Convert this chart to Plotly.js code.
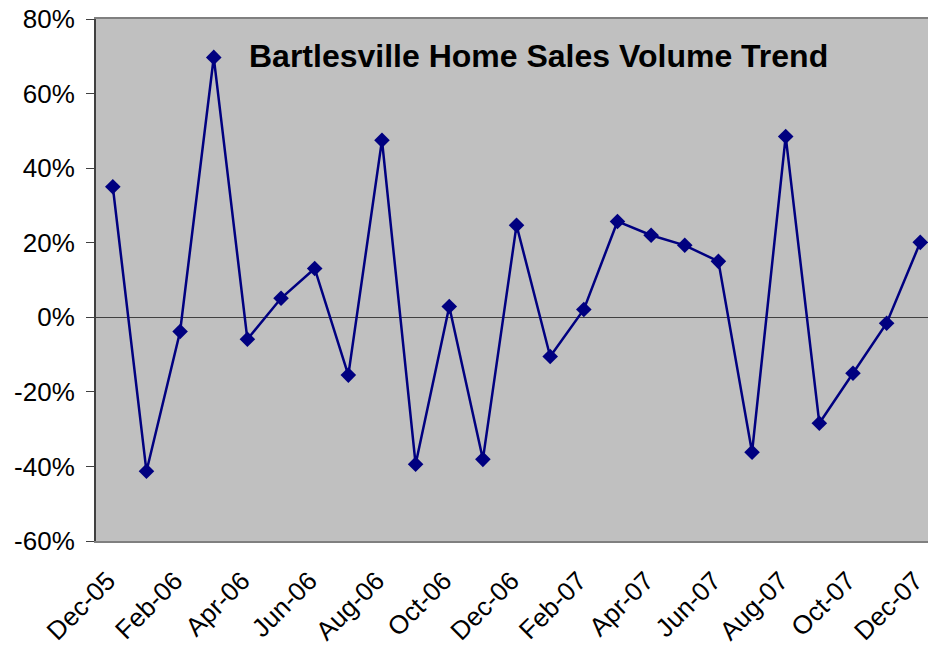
<!DOCTYPE html>
<html>
<head>
<meta charset="utf-8">
<script src="https://cdn.plot.ly/plotly-3.0.1.min.js"></script>
<style>html,body{margin:0;padding:0;background:#fff;}#chart{width:928px;height:646px;}</style>
</head>
<body>
<div id="chart"></div>
<script>
const months = ["Dec-05","Jan-06","Feb-06","Mar-06","Apr-06","May-06","Jun-06","Jul-06","Aug-06","Sep-06","Oct-06","Nov-06","Dec-06","Jan-07","Feb-07","Mar-07","Apr-07","May-07","Jun-07","Jul-07","Aug-07","Sep-07","Oct-07","Nov-07","Dec-07"];
const volumeChange = [0.35,-0.413,-0.038,0.697,-0.059,0.051,0.131,-0.155,0.475,-0.394,0.029,-0.381,0.247,-0.105,0.021,0.257,0.22,0.193,0.15,-0.362,0.485,-0.284,-0.15,-0.016,0.201];
const tickLabels = ["Dec-05","Feb-06","Apr-06","Jun-06","Aug-06","Oct-06","Dec-06","Feb-07","Apr-07","Jun-07","Aug-07","Oct-07","Dec-07"];
const yTicks = [-0.6,-0.4,-0.2,0,0.2,0.4,0.6,0.8];
const yTickText = ["-60%","-40%","-20%","0%","20%","40%","60%","80%"];
const titleText = "Bartlesville Home Sales Volume Trend";

const trace = {
  x: months, y: volumeChange, type: 'scatter', mode: 'lines+markers',
  line: {color: '#000080', width: 2.5},
  marker: {symbol: 'diamond', size: 12, color: '#000080'},
  hoverinfo: 'skip'
};

const layout = {
  width: 928, height: 646,
  margin: {l: 96, r: 0, t: 19, b: 105},
  paper_bgcolor: '#ffffff', plot_bgcolor: '#c0c0c0',
  font: {family: 'Liberation Sans, Arial, sans-serif', color: '#000'},
  showlegend: false,
  xaxis: {
    type: 'category', categoryorder: 'array', categoryarray: months,
    range: [-0.5, 24.23],
    tickvals: tickLabels, ticktext: tickLabels.map(t => t + '\u00a0'), tickangle: -45,
    tickfont: {size: 26}, ticks: '', ticklabelstandoff: 7,
    showgrid: false, zeroline: false,
    showline: true, linecolor: '#808080', linewidth: 2, mirror: true
  },
  yaxis: {
    range: [-0.6, 0.8], tickvals: yTicks, ticktext: yTickText,
    tickfont: {size: 26}, ticks: 'outside', ticklen: 8, tickcolor: '#404040', tickwidth: 1,
    ticklabelstandoff: 6,
    showgrid: false, zeroline: true, zerolinecolor: '#404040', zerolinewidth: 1,
    showline: true, linecolor: '#404040', linewidth: 2
  },
  annotations: [{
    text: '<b>' + titleText + '</b>', xref: 'paper', yref: 'paper',
    x: 0.532, y: 0.93, xanchor: 'center', yanchor: 'middle', showarrow: false,
    font: {size: 32, color: '#000'}
  }]
};
Plotly.newPlot('chart', [trace], layout, {displayModeBar: false, staticPlot: true});
</script>
</body>
</html>
